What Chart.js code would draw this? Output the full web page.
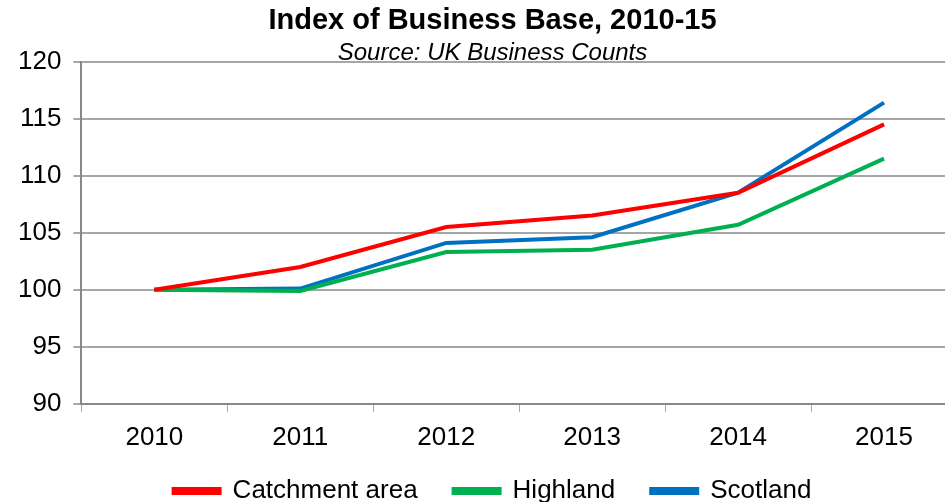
<!DOCTYPE html>
<html>
<head>
<meta charset="utf-8">
<script src="https://cdn.jsdelivr.net/npm/chart.js@4"></script>
<style>
  html, body { margin: 0; padding: 0; overflow: hidden; background: #fff; }
  #wrap { width: 979px; height: 502px; }
</style>
</head>
<body>
<div id="wrap"><canvas id="chart"></canvas></div>
<script>
const years = ['2010', '2011', '2012', '2013', '2014', '2015'];
const catchment = [100, 102.0, 105.5, 106.5, 108.5, 114.5];
const highland = [100, 99.9, 103.3, 103.5, 105.7, 111.5];
const scotland = [100, 100.1, 104.1, 104.6, 108.5, 116.4];
const yTicks = [90, 95, 100, 105, 110, 115, 120];

Chart.defaults.font.family = '"Liberation Sans", Arial, sans-serif';
Chart.defaults.color = '#000';

function series(label, data, color) {
    return {
        label: label,
        data: data,
        borderColor: color,
        backgroundColor: color,
        borderWidth: 4,
        pointRadius: 0,
        tension: 0,
        fill: false
    };
}

new Chart(document.getElementById('chart'), {
    type: 'line',
    data: {
        labels: years,
        datasets: [
            series('Catchment area', catchment, '#ff0000'),
            series('Highland', highland, '#00b050'),
            series('Scotland', scotland, '#0070c0')
        ]
    },
    options: {
        responsive: true,
        maintainAspectRatio: false,
        animation: false,
        events: [],
        layout: { padding: { left: 6, right: 0, top: 0, bottom: -12 } },
        plugins: {
            title: {
                display: true,
                text: 'Index of Business Base, 2010-15',
                font: { size: 29, weight: 'bold' },
                padding: { top: 4, bottom: 0 }
            },
            subtitle: {
                display: true,
                text: 'Source: UK Business Counts',
                font: { size: 24, style: 'italic' },
                padding: { top: 0, bottom: -6 }
            },
            legend: {
                position: 'bottom',
                // empty title with negative padding: wide item spacing without a tall legend
                title: {
                    display: true,
                    text: '',
                    font: { size: 10 },
                    padding: { top: 0, bottom: -33 }
                },
                labels: {
                    boxWidth: 46,
                    boxHeight: 4,
                    padding: 36,
                    font: { size: 26 }
                }
            },
            tooltip: { enabled: false }
        },
        scales: {
            x: {
                offset: true,
                grid: {
                    offset: true,
                    drawOnChartArea: false,
                    tickLength: 8,
                    color: '#a6a6a6'
                },
                border: { color: '#888', width: 2 },
                ticks: { font: { size: 26 }, padding: 10 }
            },
            y: {
                min: 90,
                max: 120,
                afterBuildTicks: function (axis) {
                    axis.ticks = yTicks.map(v => ({ value: v }));
                },
                grid: { color: '#a6a6a6', lineWidth: 2, tickLength: 8 },
                border: { color: '#888', width: 2 },
                ticks: { font: { size: 26 }, padding: 12 }
            },
            // empty right axis, only keeps the plot running off the right edge
            yRight: {
                position: 'right',
                min: 90,
                max: 120,
                grid: { display: false },
                border: { display: false },
                ticks: { display: false },
                afterFit: function (scale) { scale.width = 22; }
            }
        }
    }
});
</script>
</body>
</html>
